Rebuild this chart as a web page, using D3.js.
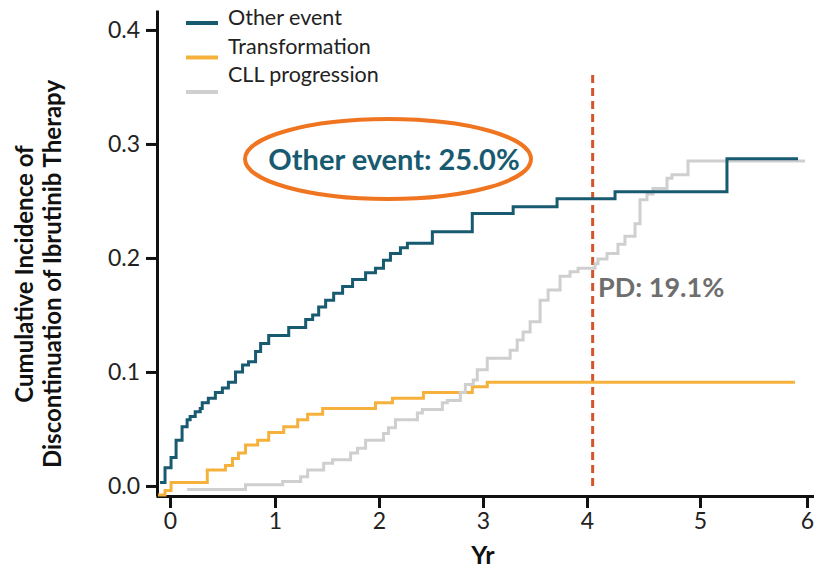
<!DOCTYPE html>
<html>
<head>
<meta charset="utf-8">
<script src="https://cdn.jsdelivr.net/npm/d3@7"></script>
<style>
  body { margin: 0; background: #fff; }
  text { font-family: Lato, "Open Sans", sans-serif; }
</style>
</head>
<body>
<svg id="chart" width="814" height="572"></svg>
<script>
// step curves (years, cumulative incidence)
var seriesNames = ['Other event', 'Transformation', 'CLL progression'];
var seriesColors = ['#185a70', '#f6b13c', '#cfcfcf'];

var otherEventTimes = [-0.096, -0.048, 0.010, 0.058, 0.115, 0.163, 0.192, 0.240, 0.288, 0.307, 0.365, 0.432, 0.499, 0.556, 0.624, 0.691, 0.748, 0.815, 0.863, 0.940, 1.132, 1.295, 1.362, 1.420, 1.487, 1.564, 1.650, 1.746, 1.871, 1.966, 2.043, 2.110, 2.206, 2.273, 2.513, 2.897, 3.290, 3.712, 4.248, 5.252, 5.916];
var otherEventValues = [0.003, 0.016, 0.025, 0.040, 0.052, 0.058, 0.061, 0.065, 0.068, 0.073, 0.077, 0.082, 0.086, 0.091, 0.100, 0.106, 0.109, 0.118, 0.125, 0.132, 0.139, 0.146, 0.150, 0.157, 0.163, 0.169, 0.175, 0.181, 0.187, 0.191, 0.198, 0.204, 0.209, 0.213, 0.223, 0.239, 0.245, 0.252, 0.258, 0.287, 0.287];

var transformationTimes = [-0.115, -0.048, 0.010, 0.355, 0.528, 0.595, 0.652, 0.719, 0.835, 0.940, 1.084, 1.218, 1.314, 1.458, 1.966, 2.129, 2.427, 2.897, 3.041, 5.888];
var transformationValues = [-0.008, -0.004, 0.003, 0.014, 0.018, 0.024, 0.029, 0.036, 0.040, 0.047, 0.052, 0.058, 0.063, 0.068, 0.073, 0.077, 0.082, 0.087, 0.091, 0.091];

var progressionTimes = [0.163, 0.719, 1.074, 1.247, 1.314, 1.468, 1.554, 1.727, 1.794, 1.871, 2.043, 2.091, 2.158, 2.369, 2.417, 2.609, 2.657, 2.782, 2.830, 2.906, 2.945, 3.041, 3.261, 3.329, 3.386, 3.453, 3.549, 3.626, 3.741, 3.837, 3.914, 4.071, 4.097, 4.177, 4.274, 4.336, 4.425, 4.469, 4.531, 4.584, 4.708, 4.752, 4.894, 5.981];
var progressionValues = [-0.003, 0.001, 0.004, 0.008, 0.014, 0.020, 0.023, 0.029, 0.033, 0.040, 0.046, 0.051, 0.058, 0.064, 0.067, 0.073, 0.075, 0.082, 0.089, 0.093, 0.102, 0.112, 0.119, 0.128, 0.135, 0.144, 0.163, 0.172, 0.184, 0.188, 0.191, 0.195, 0.199, 0.204, 0.212, 0.219, 0.230, 0.251, 0.256, 0.261, 0.270, 0.273, 0.285, 0.285];

var xTicks = [0, 1, 2, 3, 4, 5, 6];
var yTicks = [0, 0.1, 0.2, 0.3, 0.4];
var xTitle = 'Yr';
var yTitleLines = ['Cumulative Incidence of', 'Discontinuation of Ibrutinib Therapy'];
var landmarkYear = 4.05;
var otherEventNote = 'Other event: 25.0%';
var pdNote = 'PD: 19.1%';

var svg = d3.select('#chart');

// the printed x axis is not evenly spaced, so use a piecewise scale
var x = d3.scaleLinear()
  .domain([-0.135].concat(xTicks, [6.07]))
  .range([156, 170, 275, 379, 483, 587, 700, 807, 814]);

var y = d3.scaleLinear()
  .domain([-0.0088, 0.4175])
  .range([496, 10]);

var zip = function (ts, vs) {
  return ts.map(function (t, i) { return [t, vs[i]]; });
};

var series = [
  { name: seriesNames[1], color: seriesColors[1], points: zip(transformationTimes, transformationValues) },
  { name: seriesNames[2], color: seriesColors[2], points: zip(progressionTimes, progressionValues) },
  { name: seriesNames[0], color: seriesColors[0], points: zip(otherEventTimes, otherEventValues) }
];

var line = d3.line()
  .x(function (d) { return x(d[0]); })
  .y(function (d) { return y(d[1]); })
  .curve(d3.curveStepAfter);

// axes
var xAxis = svg.append('g')
  .attr('transform', 'translate(0,' + y.range()[0] + ')')
  .call(d3.axisBottom(x).tickValues(xTicks).tickFormat(d3.format('d')).tickSize(12).tickSizeOuter(0).tickPadding(5));

var yAxis = svg.append('g')
  .attr('transform', 'translate(157,0)')
  .call(d3.axisLeft(y).tickValues(yTicks).tickFormat(d3.format('.1f')).tickSize(11).tickSizeOuter(0).tickPadding(6));

[xAxis, yAxis].forEach(function (g) {
  g.select('.domain').attr('stroke', '#111').attr('stroke-width', 3);
  g.selectAll('.tick line').attr('stroke', '#111').attr('stroke-width', 3);
  g.selectAll('.tick text')
    .attr('fill', '#222')
    .style('font-size', '23px')
    .style('font-family', 'Lato, "Open Sans", sans-serif');
});

// landmark line
svg.append('line')
  .attr('x1', x(landmarkYear))
  .attr('x2', x(landmarkYear))
  .attr('y1', 75)
  .attr('y2', y(0))
  .attr('stroke', '#d4552b')
  .attr('stroke-width', 3)
  .attr('stroke-dasharray', '8,5');

// curves
svg.append('g').selectAll('path')
  .data(series)
  .enter().append('path')
  .attr('d', function (d) { return line(d.points); })
  .attr('fill', 'none')
  .attr('stroke', function (d) { return d.color; })
  .attr('stroke-width', 3);

// legend
var legend = svg.append('g').selectAll('g')
  .data(seriesNames)
  .enter().append('g');

legend.append('line')
  .attr('x1', 186)
  .attr('x2', 218)
  .attr('y1', function (d, i) { return 23 + i * 34.5; })
  .attr('y2', function (d, i) { return 23 + i * 34.5; })
  .attr('stroke', function (d, i) { return seriesColors[i]; })
  .attr('stroke-width', 4);

legend.append('text')
  .attr('x', 228)
  .attr('y', function (d, i) { return 25 + i * 28.5; })
  .attr('fill', '#222')
  .style('font-size', '21.5px')
  .text(function (d) { return d; });

// annotations
svg.append('ellipse')
  .attr('cx', 388)
  .attr('cy', 159)
  .attr('rx', 143)
  .attr('ry', 40)
  .attr('fill', 'none')
  .attr('stroke', '#f07521')
  .attr('stroke-width', 4);

svg.append('text')
  .attr('x', 394)
  .attr('y', 170)
  .attr('text-anchor', 'middle')
  .attr('fill', '#185a70')
  .style('font-size', '29px')
  .style('font-weight', 'bold')
  .text(otherEventNote);

svg.append('text')
  .attr('x', 598)
  .attr('y', 297)
  .attr('fill', '#6e6e6e')
  .style('font-size', '27px')
  .style('font-weight', 'bold')
  .text(pdNote);

// titles
svg.append('text')
  .attr('x', 483)
  .attr('y', 564)
  .attr('text-anchor', 'middle')
  .attr('fill', '#111')
  .style('font-size', '25px')
  .style('font-weight', 'bold')
  .text(xTitle);

svg.append('g').selectAll('text')
  .data(yTitleLines)
  .enter().append('text')
  .attr('transform', function (d, i) { return 'translate(' + (33 + i * 28) + ',274) rotate(-90)'; })
  .attr('text-anchor', 'middle')
  .attr('fill', '#111')
  .style('font-size', '24px')
  .style('font-weight', 'bold')
  .text(function (d) { return d; });
</script>
</body>
</html>
